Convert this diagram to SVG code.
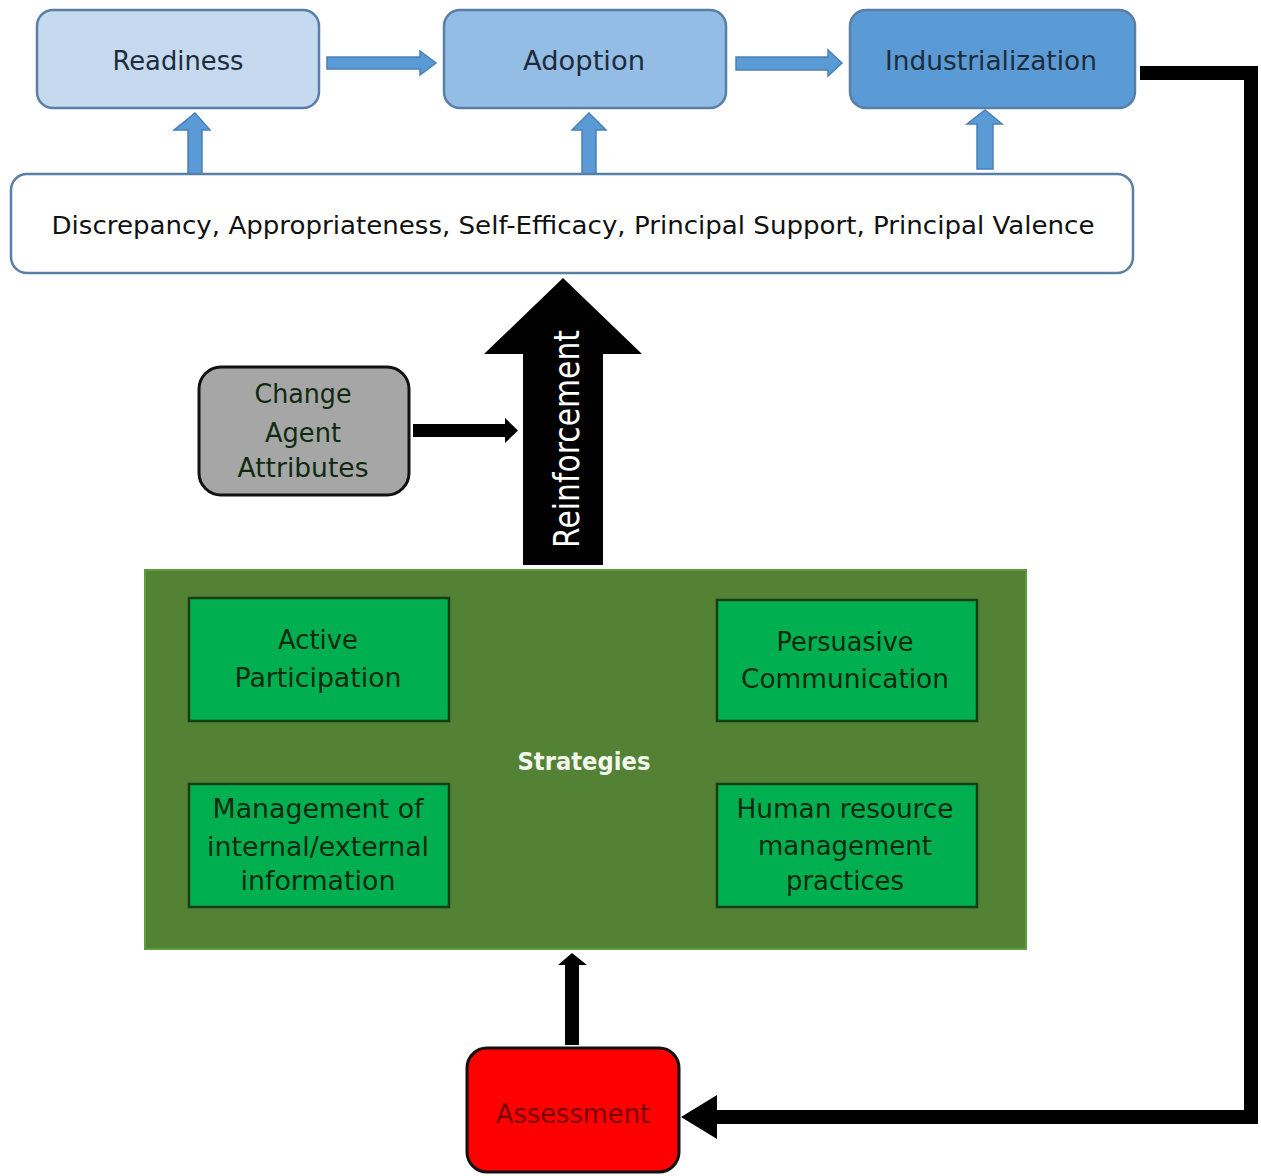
<svg xmlns="http://www.w3.org/2000/svg" width="1261" height="1176" viewBox="0 0 1261 1176">
<style>
text{font-family:"DejaVu Sans","Open Sans",sans-serif;text-anchor:middle}
.blue{stroke:#5a7fa6;stroke-width:2.5}
.bt{font-size:26px;fill:#1e2b3a}
.ua{fill:#5b9bd5;stroke:#4a80b8;stroke-width:1.5}
.gb{fill:#00b050;stroke:#173d17;stroke-width:2.5}
.gt{font-size:26px;fill:#0f2a10}
.blk{fill:#000}
</style>
<rect width="1261" height="1176" fill="#fff"/>
<g id="connectors">
<polygon class="ua" points="327,57 420,57 420,51 436,63 420,75 420,69 327,69"/>
<polygon class="ua" points="736,57 828,57 828,50 842,63 828,76 828,70 736,70"/>
<polygon class="ua" points="188,174 188,130 174,130 195,113 210,130 202,130 202,174"/>
<polygon class="ua" points="582,174 582,130 572,130 589,113 606,130 596,130 596,174"/>
<polygon class="ua" points="977,169 977,124 967,124 985,110 1002,124 993,124 993,169"/>
<polygon class="blk" points="523,565 523,354 484,354 563,278 642,354 603,354 603,565"/>
<polygon class="blk" points="413,424 505,424 505,418 518,430.5 505,443 505,437 413,437"/>
<polygon class="blk" points="565,1045 565,965 558,965 572,953 587,965 579,965 579,1045"/>
<polygon class="blk" points="1140,66 1258,66 1258,1124 717,1124 717,1139 681,1117 717,1095 717,1110 1244,1110 1244,80 1140,80"/>
</g>
<g id="reinforcement-label">
<text transform="translate(579,439) rotate(-90)" font-size="35" fill="#fff" textLength="218" lengthAdjust="spacingAndGlyphs">Reinforcement</text>
</g>
<g id="readiness">
<rect x="37" y="10" width="282" height="98" rx="16" fill="#c6daef" class="blue"/>
<text class="bt" x="178" y="70" textLength="131" lengthAdjust="spacingAndGlyphs">Readiness</text>
</g>
<g id="adoption">
<rect x="444" y="10" width="282" height="98" rx="16" fill="#94bde6" class="blue"/>
<text class="bt" x="584" y="70" textLength="122" lengthAdjust="spacingAndGlyphs">Adoption</text>
</g>
<g id="industrialization">
<rect x="850" y="10" width="285" height="98" rx="16" fill="#5b9bd5" class="blue"/>
<text class="bt" x="991" y="70" fill="#1b2a3c" textLength="212" lengthAdjust="spacingAndGlyphs">Industrialization</text>
</g>
<g id="factors">
<rect x="11" y="174" width="1122" height="99" rx="16" fill="#fff" class="blue"/>
<text x="573" y="234" font-size="24" fill="#111" textLength="1043" lengthAdjust="spacingAndGlyphs">Discrepancy, Appropriateness, Self-Efficacy, Principal Support, Principal Valence</text>
</g>
<g id="change-agent">
<rect x="199" y="367" width="210" height="128" rx="22" fill="#a6a6a6" stroke="#111" stroke-width="3"/>
<text class="gt" x="303" y="403" fill="#1a1a1a" textLength="97" lengthAdjust="spacingAndGlyphs">Change</text>
<text class="gt" x="303" y="442" fill="#1a1a1a" textLength="76" lengthAdjust="spacingAndGlyphs">Agent</text>
<text class="gt" x="303" y="477" fill="#1a1a1a" textLength="131" lengthAdjust="spacingAndGlyphs">Attributes</text>
</g>
<g id="strategies">
<rect x="145" y="570" width="881" height="379" fill="#548235" stroke="#5f9c3c" stroke-width="2"/>
<text x="584" y="770" font-size="25" font-weight="bold" fill="#f2f7ee" textLength="133" lengthAdjust="spacingAndGlyphs">Strategies</text>
</g>
<g id="active-participation">
<rect class="gb" x="189" y="598" width="260" height="123"/>
<text class="gt" x="318" y="649" textLength="80" lengthAdjust="spacingAndGlyphs">Active</text>
<text class="gt" x="318" y="687" textLength="167" lengthAdjust="spacingAndGlyphs">Participation</text>
</g>
<g id="persuasive-communication">
<rect class="gb" x="717" y="600" width="260" height="121"/>
<text class="gt" x="845" y="651" textLength="137" lengthAdjust="spacingAndGlyphs">Persuasive</text>
<text class="gt" x="845" y="688" textLength="208" lengthAdjust="spacingAndGlyphs">Communication</text>
</g>
<g id="information-management">
<rect class="gb" x="189" y="784" width="260" height="123"/>
<text class="gt" x="318" y="818" textLength="211" lengthAdjust="spacingAndGlyphs">Management of</text>
<text class="gt" x="318" y="856" textLength="222" lengthAdjust="spacingAndGlyphs">internal/external</text>
<text class="gt" x="318" y="890" textLength="155" lengthAdjust="spacingAndGlyphs">information</text>
</g>
<g id="hr-practices">
<rect class="gb" x="717" y="784" width="260" height="123"/>
<text class="gt" x="845" y="818" textLength="217" lengthAdjust="spacingAndGlyphs">Human resource</text>
<text class="gt" x="845" y="855" textLength="174" lengthAdjust="spacingAndGlyphs">management</text>
<text class="gt" x="845" y="890" textLength="118" lengthAdjust="spacingAndGlyphs">practices</text>
</g>
<g id="assessment">
<rect x="467" y="1048" width="212" height="124" rx="20" fill="#ff0000" stroke="#111" stroke-width="3"/>
<text x="573" y="1123" font-size="26" fill="#7a0000" textLength="154" lengthAdjust="spacingAndGlyphs">Assessment</text>
</g>
</svg>
